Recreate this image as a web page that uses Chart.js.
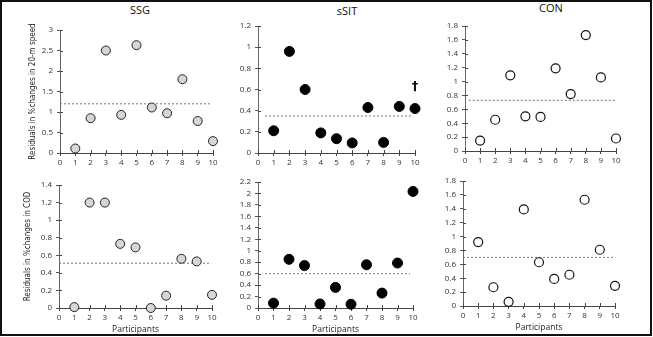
<!DOCTYPE html>
<html>
<head>
<meta charset="utf-8">
<script src="https://cdn.jsdelivr.net/npm/chart.js@4.4.1/dist/chart.umd.min.js"></script>
<style>
    body { margin: 0; background: #fff; width: 653px; height: 337px; overflow: hidden; position: relative; }
    .frame { position: absolute; left: 0; top: 0; width: 652px; height: 336px; box-sizing: border-box; border: 2px solid #111; }
    canvas { position: absolute; }
    .ttl { position: absolute; transform: translate(-50%, -50%); font: 11px 'Open Sans', sans-serif; color: #111; }
</style>
</head>
<body>
<div class="frame"></div>
<div class="ttl" style="left:140px;top:9px">SSG</div>
<div class="ttl" style="left:347px;top:10px">sSIT</div>
<div class="ttl" style="left:551px;top:7px">CON</div>
<canvas id="c1"></canvas>
<canvas id="c2"></canvas>
<canvas id="c3"></canvas>
<canvas id="c4"></canvas>
<canvas id="c5"></canvas>
<canvas id="c6"></canvas>
<script>
// ========== DỮ LIỆU ==========
const participants = [1, 2, 3, 4, 5, 6, 7, 8, 9, 10];

// Residuals in %changes in 20-m speed
const speedSSG  = [0.11, 0.85, 2.50, 0.93, 2.63, 1.11, 0.97, 1.80, 0.78, 0.29];
const speedSSIT = [0.21, 0.96, 0.60, 0.19, 0.135, 0.095, 0.43, 0.10, 0.44, 0.42];
const speedCON  = [0.15, 0.45, 1.09, 0.50, 0.49, 1.19, 0.82, 1.67, 1.06, 0.18];

// Residuals in %changes in COD
const codSSG  = [0.01, 1.20, 1.20, 0.73, 0.69, 0.00, 0.14, 0.56, 0.53, 0.15];
const codSSIT = [0.085, 0.85, 0.74, 0.07, 0.36, 0.065, 0.755, 0.26, 0.785, 2.035];
const codCON  = [0.92, 0.27, 0.06, 1.39, 0.63, 0.39, 0.45, 1.53, 0.81, 0.29];

// dashed mean lines: level, start and end on the x axis
const meanLevel = [1.20, 0.35, 0.73, 0.51, 0.60, 0.70];
const meanFrom  = [0, 0.45, 0.25, 0, 0.45, 0];
const meanTo    = [9.9, 9.8, 10, 9.95, 9.8, 10];

// axes
const yMax  = [3, 1.2, 1.8, 1.4, 2.2, 1.8];
const yStep = [0.5, 0.2, 0.2, 0.2, 0.2, 0.2];
const xMax = 10;

const yTitleSpeed = 'Residuals in %changes in 20-m speed';
const yTitleCOD = 'Residuals in %changes in COD';
const xTitle = 'Participants';

// ========== STYLE ==========
Chart.defaults.font.family = "'Open Sans', 'Liberation Sans', sans-serif";
Chart.defaults.color = '#333';
const narrowFont = "'Liberation Sans Narrow', 'DejaVu Sans Condensed', 'Open Sans', sans-serif";

const markerSSG  = { backgroundColor: '#d6d6d6', borderColor: '#222', borderWidth: 1, pointRadius: 4.5 };
const markerSSIT = { backgroundColor: '#000', borderColor: '#000', borderWidth: 1, pointRadius: 5 };
const markerCON  = { backgroundColor: '#fff', borderColor: '#111', borderWidth: 1.2, pointRadius: 4.5 };

const formatTick = value => String(parseFloat(value.toFixed(2)));

// short tick marks on the inner side of the axes (ticks cross the axis)
const crossTicks = {
    id: 'crossTicks',
    beforeDatasetsDraw(chart) {
        const { ctx, chartArea, scales: { x, y } } = chart;
        ctx.save();
        ctx.strokeStyle = '#444';
        ctx.lineWidth = 1;
        ctx.beginPath();
        x.ticks.forEach(t => {
            const px = Math.round(x.getPixelForValue(t.value)) + 0.5;
            ctx.moveTo(px, chartArea.bottom);
            ctx.lineTo(px, chartArea.bottom - 3);
        });
        y.ticks.forEach(t => {
            const py = Math.round(y.getPixelForValue(t.value)) + 0.5;
            ctx.moveTo(chartArea.left, py);
            ctx.lineTo(chartArea.left + 3, py);
        });
        ctx.stroke();
        ctx.restore();
    }
};

// dagger above a given point
const dagger = {
    id: 'dagger',
    afterDatasetsDraw(chart, args, opts) {
        if (!opts || !opts.text) return;
        const el = chart.getDatasetMeta(0).data[opts.index];
        if (!el) return;
        const { ctx } = chart;
        ctx.save();
        ctx.fillStyle = '#111';
        ctx.font = "bold 13px 'DejaVu Sans', sans-serif";
        ctx.textAlign = 'center';
        ctx.textBaseline = 'middle';
        ctx.fillText(opts.text, el.x, el.y - 22);
        ctx.restore();
    }
};

function createPanel(id, area, values, idx, marker, yTitle, showXTitle, daggerOpts) {
    const canvas = document.getElementById(id);
    const padL = 5, padT = yTitle ? 28 : 10, padR = 8, padB = 1, yW = 50, xH = 28;
    canvas.width = (area.r - area.l) + padL + yW + padR;
    canvas.height = (area.b - area.t) + padT + xH + padB;
    canvas.style.left = (area.l - padL - yW) + 'px';
    canvas.style.top = (area.t - padT) + 'px';

    const points = participants.map((p, i) => ({ x: p, y: values[i] }));

    try {
        new Chart(canvas.getContext('2d'), {
            type: 'scatter',
            data: {
                datasets: [
                    {
                        label: 'Residuals',
                        data: points,
                        clip: false,
                        ...marker,
                        pointHoverRadius: marker.pointRadius
                    },
                    {
                        label: 'Mean',
                        data: [{ x: meanFrom[idx], y: meanLevel[idx] }, { x: meanTo[idx], y: meanLevel[idx] }],
                        showLine: true,
                        borderColor: '#777',
                        borderWidth: 1,
                        borderDash: [2, 2],
                        pointRadius: 0,
                        clip: false
                    }
                ]
            },
            options: {
                responsive: false,
                animation: false,
                layout: { padding: { left: padL, top: padT, right: padR, bottom: padB } },
                plugins: {
                    legend: { display: false },
                    tooltip: { enabled: false },
                    dagger: daggerOpts || {}
                },
                scales: {
                    x: {
                        type: 'linear',
                        min: 0,
                        max: xMax,
                        afterFit: s => { s.height = xH; },
                        ticks: { stepSize: 1, font: { size: 8 }, color: '#333', padding: 2, maxRotation: 0, autoSkip: false },
                        grid: { drawOnChartArea: false, tickLength: 3, color: '#444' },
                        border: { color: '#444', width: 1 },
                        title: {
                            display: showXTitle,
                            text: xTitle,
                            color: '#222',
                            font: { size: 8.5 },
                            padding: { top: 0, bottom: 1 }
                        }
                    },
                    y: {
                        min: 0,
                        max: yMax[idx],
                        afterFit: s => { s.width = yW; },
                        ticks: { stepSize: yStep[idx], font: { size: 8 }, color: '#333', padding: 4, autoSkip: false, callback: formatTick },
                        grid: { drawOnChartArea: false, tickLength: 3, color: '#555' },
                        border: { color: '#666', width: 1 },
                        title: {
                            display: !!yTitle,
                            text: yTitle || '',
                            color: '#222',
                            font: { size: 8, family: narrowFont },
                            padding: { top: yTitle === yTitleCOD ? 14 : 18, bottom: 0 }
                        }
                    }
                }
            },
            plugins: [crossTicks, dagger]
        });
    } catch (error) {
        console.error('Panel error ' + id, error);
    }
}

createPanel('c1', { l: 60, t: 30, r: 213, b: 153 }, speedSSG, 0, markerSSG, yTitleSpeed, false);
createPanel('c2', { l: 258, t: 26, r: 415, b: 153 }, speedSSIT, 1, markerSSIT, null, false, { text: '\u2020', index: 9 });
createPanel('c3', { l: 465, t: 26, r: 616, b: 151 }, speedCON, 2, markerCON, null, false);
createPanel('c4', { l: 59, t: 185, r: 212, b: 308 }, codSSG, 3, markerSSG, yTitleCOD, true);
createPanel('c5', { l: 258, t: 182, r: 413, b: 308 }, codSSIT, 4, markerSSIT, null, true);
createPanel('c6', { l: 463, t: 181, r: 615, b: 306 }, codCON, 5, markerCON, null, true);
</script>
</body>
</html>
